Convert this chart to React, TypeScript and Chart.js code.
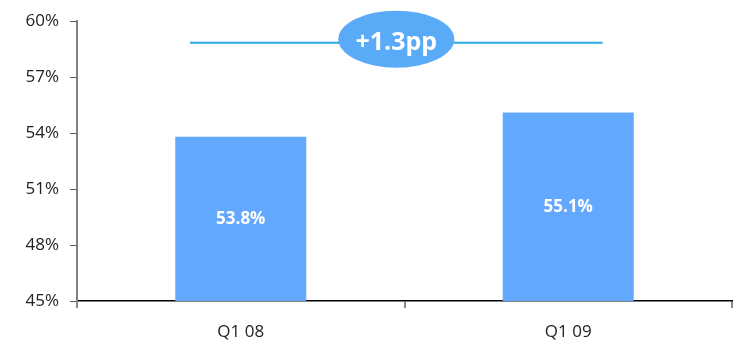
import React, { useEffect, useRef } from "react";
import { Chart, registerables } from "chart.js";

Chart.register(...registerables);

const categories = ["Q1 08", "Q1 09"];
const values = [53.8, 55.1];
const yTicks = [45, 48, 51, 54, 57, 60];
const bracketValue = 58.85;
const bracketFrom = -0.155;
const bracketTo = 1.105;
const bracketLabel = "+1.3pp";

const FONT = "'Open Sans', 'DejaVu Sans', sans-serif";

const overlayPlugin = {
  id: "overlay",
  afterDatasetsDraw(chart: any) {
    const ctx = chart.ctx;
    const xs = chart.scales.x;
    const ys = chart.scales.y;
    ctx.save();
    // bar labels
    ctx.fillStyle = "#ffffff";
    ctx.font = `bold 17px ${FONT}`;
    ctx.textAlign = "center";
    ctx.textBaseline = "middle";
    values.forEach((v, i) => {
      const top = ys.getPixelForValue(v);
      const base = ys.getPixelForValue(ys.min);
      const cx = xs.getPixelForValue(i);
      ctx.fillText(v.toFixed(1) + "%", cx, (top + base) / 2);
    });
    // bracket line
    const x1 = xs.getPixelForValue(bracketFrom);
    const x2 = xs.getPixelForValue(bracketTo);
    const y = ys.getPixelForValue(bracketValue);
    ctx.strokeStyle = "#2aa7df";
    ctx.lineWidth = 2;
    ctx.beginPath();
    ctx.moveTo(x1, y);
    ctx.lineTo(x2, y);
    ctx.stroke();
    // ellipse
    const cx = (x1 + x2) / 2;
    const cy = y - 3.5;
    ctx.fillStyle = "#5aabf7";
    ctx.beginPath();
    ctx.ellipse(cx, cy, 58, 28.5, 0, 0, Math.PI * 2);
    ctx.fill();
    ctx.fillStyle = "#ffffff";
    ctx.font = `bold 25px ${FONT}`;
    ctx.textBaseline = "alphabetic";
    ctx.fillText(bracketLabel, cx, y + 7.5);
    ctx.restore();
  },
};

export default function App() {
  const ref = useRef<HTMLCanvasElement | null>(null);
  useEffect(() => {
    if (!ref.current) return;
    const chart = new Chart(ref.current, {
      type: "bar",
      data: {
        labels: categories,
        datasets: [
          {
            data: values,
            backgroundColor: "#62a8ff",
            barPercentage: 0.4,
            categoryPercentage: 1,
          },
        ],
      },
      options: {
        animation: false,
        responsive: false,
        maintainAspectRatio: false,
        layout: { padding: { top: 19, right: 4, left: 0, bottom: 0 } },
        plugins: { legend: { display: false }, tooltip: { enabled: false } },
        scales: {
          x: {
            grid: {
              offset: true,
              drawOnChartArea: false,
              drawTicks: true,
              tickLength: 7,
              color: "#8a8a8a",
              lineWidth: 2,
            },
            border: { color: "#000000", width: 1.5 },
            ticks: {
              color: "#222222",
              font: { family: FONT, size: 17 },
              padding: 14,
            },
            afterFit(scale: any) {
              scale.height = 41;
            },
          },
          y: {
            min: 45,
            max: 60,
            afterBuildTicks(scale: any) {
              scale.ticks = yTicks.map((v) => ({ value: v }));
            },
            grid: {
              drawOnChartArea: false,
              drawTicks: true,
              tickLength: 7,
              color: "#555555",
              lineWidth: 1,
            },
            border: { color: "#808080", width: 2 },
            ticks: {
              color: "#222222",
              font: { family: FONT, size: 17 },
              padding: 11,
              callback: (v: any) => v + "%",
            },
            afterFit(scale: any) {
              scale.width = 77;
            },
          },
        },
      },
      plugins: [overlayPlugin],
    });
    return () => chart.destroy();
  }, []);
  return (
    <div style={{ position: "fixed", left: 0, top: 0, width: 736, height: 342, background: "#fff" }}>
      <canvas ref={ref} width={736} height={342} style={{ width: 736, height: 342 }} />
    </div>
  );
}
